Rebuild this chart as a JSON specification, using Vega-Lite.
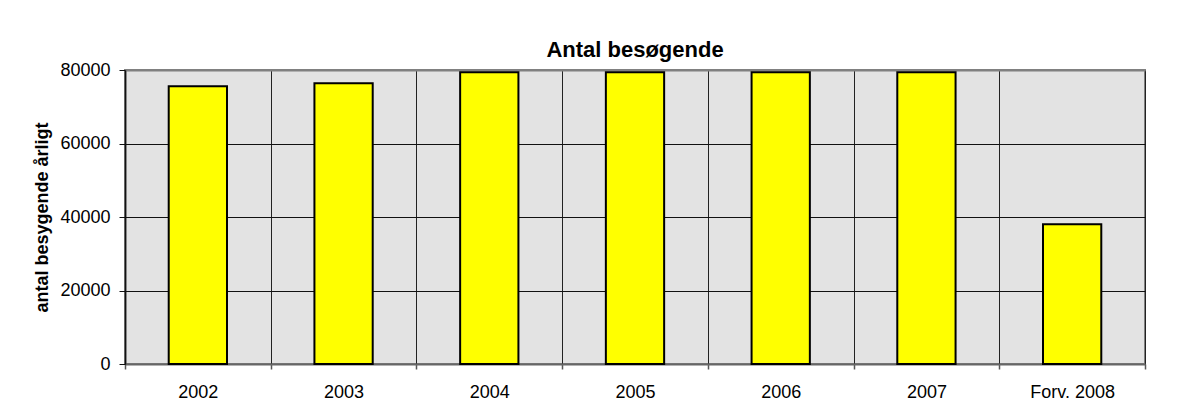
{
  "$schema": "https://vega.github.io/schema/vega-lite/v6.json",
  "width": 1020,
  "height": 294,
  "autosize": {"type": "none"},
  "padding": {"left": 125, "top": 70, "right": 34, "bottom": 55},
  "background": "white",
  "title": {
    "text": "Antal besøgende",
    "font": "Liberation Sans",
    "fontSize": 22,
    "fontWeight": "bold",
    "color": "black",
    "anchor": "middle",
    "offset": -18,
    "baseline": "alphabetic"
  },
  "data": {
    "values": [
      {"year": "2002", "visitors": 75600},
      {"year": "2003", "visitors": 76400},
      {"year": "2004", "visitors": 79400},
      {"year": "2005", "visitors": 79400},
      {"year": "2006", "visitors": 79400},
      {"year": "2007", "visitors": 79400},
      {"year": "Forv. 2008", "visitors": 38000}
    ]
  },
  "mark": {"type": "bar", "fill": "#FFFF00", "stroke": "black", "strokeWidth": 2, "width": {"band": 0.4}},
  "encoding": {
    "x": {
      "field": "year",
      "type": "nominal",
      "sort": null,
      "scale": {"paddingInner": 0, "paddingOuter": 0},
      "axis": {
        "title": null,
        "labelAngle": 0,
        "tickBand": "extent",
        "grid": true,
        "gridColor": {"condition": {"test": "datum.extra", "value": "#808080"}, "value": "#222222"},
        "gridWidth": {"condition": {"test": "datum.extra", "value": 2}, "value": 1},
        "tickColor": "#555555",
        "tickSize": 5,
        "tickWidth": 1.5,
        "domainColor": "#666666",
        "domainWidth": 2,
        "labelFont": "Liberation Sans",
        "labelFontSize": 18,
        "labelColor": "black",
        "labelPadding": 14
      }
    },
    "y": {
      "field": "visitors",
      "type": "quantitative",
      "scale": {"domain": [0, 80000]},
      "axis": {
        "title": "antal besygende årligt",
        "titleFont": "Liberation Sans",
        "titleFontSize": 18,
        "titleFontWeight": "bold",
        "titleColor": "black",
        "titlePadding": 8,
        "values": [0, 20000, 40000, 60000, 80000],
        "format": "d",
        "grid": true,
        "gridColor": {"condition": {"test": "datum.value >= 80000", "value": "#808080"}, "value": "#111111"},
        "gridWidth": {"condition": {"test": "datum.value >= 80000", "value": 2}, "value": 1},
        "tickColor": "#111111",
        "tickSize": 6,
        "tickWidth": 1,
        "domainColor": "#111111",
        "domainWidth": 1.5,
        "labelFont": "Liberation Sans",
        "labelFontSize": 18,
        "labelColor": "black",
        "labelPadding": 9
      }
    }
  },
  "config": {
    "view": {"fill": "#E3E3E3", "stroke": "#808080", "strokeWidth": 2}
  }
}
